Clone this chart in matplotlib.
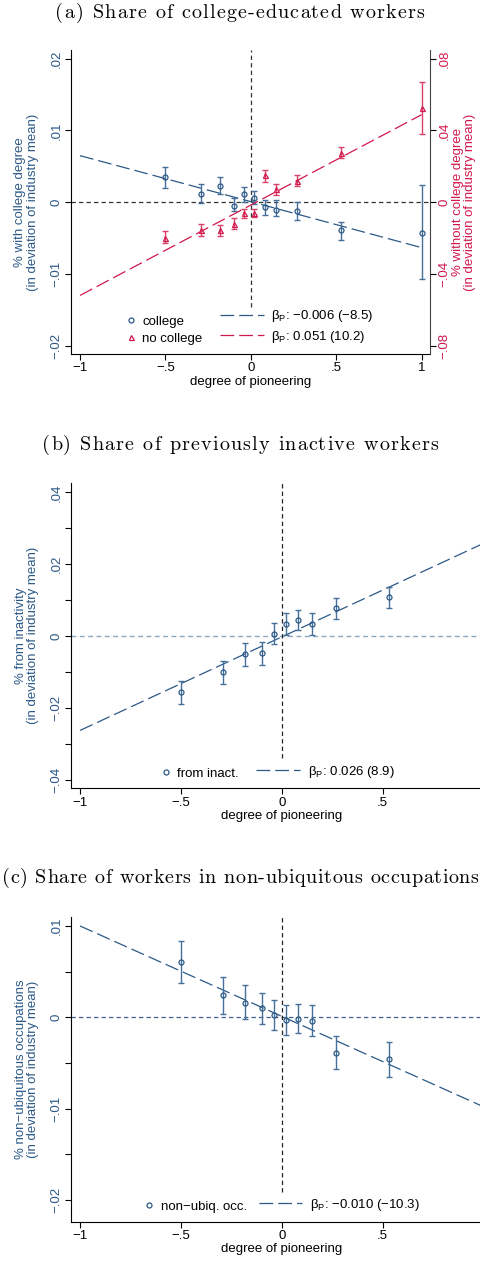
import numpy as np
import matplotlib
matplotlib.use("Agg")
import matplotlib.pyplot as plt
from matplotlib.lines import Line2D
from matplotlib.font_manager import FontProperties

plt.rcParams['font.family'] = ['Liberation Sans', 'DejaVu Sans']
plt.rcParams['mathtext.fontset'] = 'custom'
plt.rcParams['mathtext.rm'] = 'Liberation Sans'
plt.rcParams['mathtext.it'] = 'Liberation Sans:italic'

BLUE = '#2c5987'
BLUE_BAR = '#46709a'
RED = '#d2174b'
RED_BAR = '#d9416b'
MINUS = '\u2212'

# ---- data ----
pioneer = [-0.50, -0.29, -0.18, -0.10, -0.04, 0.02, 0.08, 0.15, 0.27, 0.53, 1.00]

college = [0.0035, 0.0011, 0.0023, -0.0005, 0.0011, 0.00065, -0.00065, -0.0010, -0.00125, -0.0039, -0.0042]
college_lo = [0.0020, -0.0001, 0.0012, -0.0012, 0.0000, -0.0002, -0.0017, -0.0019, -0.0024, -0.0053, -0.0107]
college_hi = [0.0049, 0.0025, 0.0035, 0.0006, 0.0022, 0.0016, 0.0003, 0.0003, 0.0000, -0.0027, 0.0024]

nocollege = [-0.0198, -0.0152, -0.0156, -0.0118, -0.0057, -0.0057, 0.0150, 0.0072, 0.0118, 0.0276, 0.0526]
nocollege_lo = [-0.0226, -0.0187, -0.0187, -0.0150, -0.0085, -0.0082, 0.0113, 0.0039, 0.0089, 0.0246, 0.0378]
nocollege_hi = [-0.0160, -0.0122, -0.0128, -0.0087, -0.0035, -0.0035, 0.0178, 0.0104, 0.0150, 0.0307, 0.0668]

inact = [-0.0156, -0.0100, -0.0049, -0.0047, 0.0007, 0.0034, 0.0046, 0.0034, 0.0078, 0.0108]
inact_lo = [-0.0188, -0.0132, -0.0082, -0.0079, -0.0023, 0.0002, 0.0018, 0.0002, 0.0048, 0.0079]
inact_hi = [-0.0125, -0.0070, -0.0018, -0.0017, 0.0037, 0.0064, 0.0074, 0.0064, 0.0107, 0.0136]

nonubiq = [0.0061, 0.0024, 0.0016, 0.0010, 0.0003, -0.0003, -0.00015, -0.0004, -0.0039, -0.0046]
nonubiq_lo = [0.0038, 0.0004, -0.0002, -0.0007, -0.0014, -0.0019, -0.0017, -0.0021, -0.0057, -0.0066]
nonubiq_hi = [0.0084, 0.0044, 0.0035, 0.0027, 0.0019, 0.0013, 0.0014, 0.0013, -0.0020, -0.0027]

# fitted lines: (intercept, slope)
fit_college = (0.0001, -0.0064)
fit_nocollege = (-0.0015, 0.0503)
fit_inact = (-0.0002, 0.0260)
fit_nonubiq = (0.0001, -0.0099)
fit_range = [-1, 1]

xticks = [-1, -0.5, 0, 0.5, 1]
xticklabels = [MINUS + '1', MINUS + '.5', '0', '.5', '1']

titles = ['(a) Share of college-educated workers',
          '(b) Share of previously inactive workers',
          '(c) Share of workers in non-ubiquitous occupations']


def stata_fmt(v):
    if abs(v) < 1e-12:
        return '0'
    s = ('%g' % abs(v)).lstrip('0')
    return (MINUS if v < 0 else '') + s


def errbars(ax, x, y, lo, hi, color, barcolor, marker):
    y = np.array(y)
    yerr = [y - np.array(lo), np.array(hi) - y]
    ax.errorbar(x, y, yerr=yerr, fmt='none', ecolor=barcolor, elinewidth=1.0,
                capsize=2.3, capthick=1.0, zorder=3)
    ax.plot(x, y, linestyle='none', marker=marker, markersize=3.6, markerfacecolor='none',
            markeredgecolor=color, markeredgewidth=0.9, zorder=4)


def fitline(ax, fit, color):
    xs = np.array(fit_range, dtype=float)
    ax.plot(xs, fit[0] + fit[1] * xs, color=color, lw=0.9, dashes=(11, 4), zorder=2)


def style_axes(ax, xt, yticks, ylabeled, ylabel, color):
    ax.spines['top'].set_visible(False)
    ax.spines['right'].set_visible(False)
    ax.set_xticks(xticks[:xt])
    ax.set_xticklabels(xticklabels[:xt])
    ax.set_yticks(yticks)
    ax.set_yticklabels([stata_fmt(t) if t in ylabeled else '' for t in yticks])
    ax.tick_params(axis='both', length=4, width=0.8, labelsize=9.5, pad=2)
    ax.tick_params(axis='y', colors='black', labelcolor=color)
    for lab in ax.get_yticklabels():
        lab.set_rotation(90)
        lab.set_va('center')
    ax.set_xlabel('degree of pioneering', fontsize=9.5, labelpad=1)
    ax.set_ylabel(ylabel, fontsize=9.5, color=color, linespacing=1.05)


def legend_pair(ax, markers, lines, x1, x2, y, fs=9.5):
    leg1 = ax.legend(handles=markers, loc='lower left', bbox_to_anchor=(x1, y),
                     frameon=False, handlelength=0.6, handletextpad=0.6,
                     borderpad=0, borderaxespad=0, labelspacing=0.35, fontsize=fs)
    ax.add_artist(leg1)
    ax.legend(handles=lines, loc='lower left', bbox_to_anchor=(x2, y),
              frameon=False, handlelength=3.3, handletextpad=0.6,
              borderpad=0, borderaxespad=0, labelspacing=0.35, fontsize=fs)


def beta_label(txt):
    return '\u03b2' + r'$_{\mathrm{P}}$' + ': ' + txt


fig = plt.figure(figsize=(4.8, 12.62), dpi=100)
H = 1262.0
W = 480.0
renderer = fig.canvas.get_renderer()


def add_axes_px(left, right, top, bottom):
    return fig.add_axes([left / W, 1 - bottom / H, (right - left) / W, (bottom - top) / H])


def spaced_title(s, ypx, size=14.5, track=1.15, maxw=None):
    # letter-spaced serif title, drawn glyph by glyph
    fp = FontProperties(family='cmr10', size=size)
    width = lambda t: renderer.get_text_width_height_descent(t, fp, ismath=False)[0]
    n = len(s)
    total = width(s) + track * (n - 1)
    if maxw is not None and total > maxw:
        track = (maxw - width(s)) / (n - 1)
        total = maxw
    x0 = W / 2 - total / 2
    for i, ch in enumerate(s):
        if ch == ' ':
            continue
        xr = x0 + width(s[:i + 1]) + track * i
        fig.text(xr / W, 1 - ypx / H, ch, fontproperties=fp, ha='right', va='baseline')


spaced_title(titles[0], 18)
spaced_title(titles[1], 450)
spaced_title(titles[2], 883, maxw=477)

# ---------------- panel (a) ----------------
ax = add_axes_px(71, 430, 50, 354)
ax.set_xlim(-1.053, 1.049)
ax.set_ylim(-0.0211, 0.0212)
ax2 = ax.twinx()
ax2.set_ylim(-0.0844, 0.0848)

ax.axhline(0, color='#333333', lw=0.9, dashes=(3.5, 2.5), zorder=1)
ax.axvline(0, ymin=0.156, ymax=1, color='#333333', lw=0.9, dashes=(3.5, 2.5), zorder=1)

fitline(ax, fit_college, BLUE)
errbars(ax, pioneer, college, college_lo, college_hi, BLUE, BLUE_BAR, 'o')
fitline(ax2, fit_nocollege, RED)
errbars(ax2, pioneer, nocollege, nocollege_lo, nocollege_hi, RED, RED_BAR, '^')

yt = [-0.02, -0.01, 0, 0.01, 0.02]
style_axes(ax, 5, yt, yt, '% with college degree\n(in deviation of industry mean)', BLUE)
ax.yaxis.set_label_coords(-0.09, 0.5)

ax2.spines['top'].set_visible(False)
ax2.spines['left'].set_visible(False)
ax2.spines['bottom'].set_visible(False)
ax2.spines['right'].set_color('#444444')
yt2 = [-0.08, -0.04, 0, 0.04, 0.08]
ax2.set_yticks(yt2)
ax2.set_yticklabels([stata_fmt(t) for t in yt2])
ax2.tick_params(axis='y', length=4, width=0.8, labelsize=9.5, pad=2, labelcolor=RED)
for lab in ax2.get_yticklabels():
    lab.set_rotation(90)
    lab.set_va('center')
ax2.set_ylabel('% without college degree\n(in deviation of industry mean)', fontsize=9.5,
               color=RED, linespacing=1.05)
ax2.yaxis.set_label_coords(1.06, 0.5)

mk = [Line2D([], [], ls='none', marker='o', markersize=3.6, mfc='none', mec=BLUE, mew=0.9, label='college'),
      Line2D([], [], ls='none', marker='^', markersize=3.6, mfc='none', mec=RED, mew=0.9, label='no college')]
ln = [Line2D([], [], color=BLUE, lw=0.9, dashes=(11, 4), label=beta_label(MINUS + '0.006 (' + MINUS + '8.5)')),
      Line2D([], [], color=RED, lw=0.9, dashes=(11, 4), label=beta_label('0.051 (10.2)'))]
legend_pair(ax2, mk, ln, 0.155, 0.415, 0.03)

# ---------------- panel (b) ----------------
bx = add_axes_px(71, 492.5, 483, 788.3)
bx.set_xlim(-1.045, 1.045)
bx.set_ylim(-0.0423, 0.0426)
bx.axhline(0, color='#8ea7c0', lw=1.0, dashes=(3.5, 2.5), zorder=1)
bx.axvline(0, ymin=0.098, ymax=1, color='#222222', lw=0.9, dashes=(3.5, 2.5), zorder=1)
fitline(bx, fit_inact, BLUE)
errbars(bx, pioneer[:10], inact, inact_lo, inact_hi, BLUE, BLUE_BAR, 'o')
ytb = [-0.04, -0.03, -0.02, -0.01, 0, 0.01, 0.02, 0.03, 0.04]
style_axes(bx, 4, ytb, [-0.04, -0.02, 0, 0.02, 0.04],
           '% from inactivity\n(in deviation of industry mean)', BLUE)
bx.yaxis.set_label_coords(-0.076, 0.5)
mk = [Line2D([], [], ls='none', marker='o', markersize=3.6, mfc='none', mec=BLUE, mew=0.9, label='from inact.')]
ln = [Line2D([], [], color=BLUE, lw=0.9, dashes=(11, 4), label=beta_label('0.026 (8.9)'))]
legend_pair(bx, mk, ln, 0.215, 0.44, 0.028)

# ---------------- panel (c) ----------------
cx = add_axes_px(71, 492.5, 917.3, 1221.7)
cx.set_xlim(-1.045, 1.045)
cx.set_ylim(-0.0224, 0.01095)
cx.axhline(0, color='#3f6389', lw=0.9, dashes=(3.5, 2.5), zorder=1)
cx.axvline(0, ymin=0.097, ymax=1, color='#222222', lw=0.9, dashes=(3.5, 2.5), zorder=1)
fitline(cx, fit_nonubiq, BLUE)
errbars(cx, pioneer[:10], nonubiq, nonubiq_lo, nonubiq_hi, BLUE, BLUE_BAR, 'o')
ytc = [-0.02, -0.015, -0.01, -0.005, 0, 0.005, 0.01]
style_axes(cx, 4, ytc, [-0.02, -0.01, 0, 0.01],
           '% non\u2212ubiquitous occupations\n(in deviation of industry mean)', BLUE)
cx.yaxis.set_label_coords(-0.076, 0.5)
mk = [Line2D([], [], ls='none', marker='o', markersize=3.6, mfc='none', mec=BLUE, mew=0.9, label='non\u2212ubiq. occ.')]
ln = [Line2D([], [], color=BLUE, lw=0.9, dashes=(11, 4), label=beta_label(MINUS + '0.010 (' + MINUS + '10.3)'))]
legend_pair(cx, mk, ln, 0.175, 0.445, 0.03)

fig.savefig('out.png', dpi=100)
